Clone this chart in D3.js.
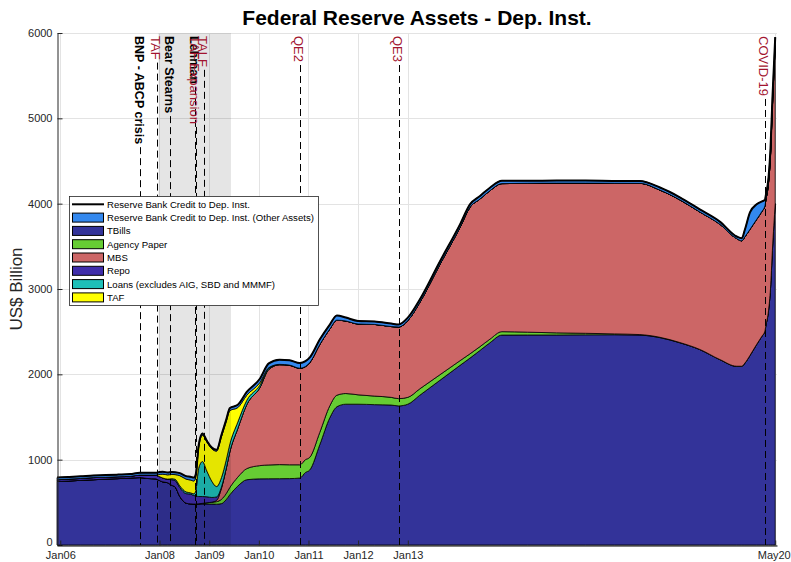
<!DOCTYPE html>
<html>
<head>
<meta charset="utf-8">
<script src="https://cdn.jsdelivr.net/npm/d3@7"></script>
<style>
    body { margin: 0; background: #fff; }
    svg { font-family: "Liberation Sans", Arial, Helvetica, sans-serif; }
</style>
</head>
<body>
<svg id="chart"></svg>
<script>
/**
 * @type {string[]}
 */
const dates = [
    "2005-12-08", "2006-03-01", "2006-06-01", "2006-09-01", "2006-12-01", "2007-03-01",
    "2007-06-01", "2007-08-10", "2007-10-01", "2007-12-05", "2007-12-26", "2008-01-25",
    "2008-03-01", "2008-04-01", "2008-04-25", "2008-05-30", "2008-07-15", "2008-08-15",
    "2008-09-10", "2008-09-24", "2008-10-15", "2008-11-12", "2008-12-15", "2009-01-20",
    "2009-02-24", "2009-04-01", "2009-05-05", "2009-06-02", "2009-07-30", "2009-10-04",
    "2010-01-07", "2010-03-15", "2010-06-02", "2010-08-15", "2010-10-29", "2010-12-10",
    "2011-01-11", "2011-03-25", "2011-06-07", "2011-07-29", "2011-10-03", "2012-01-01",
    "2012-05-01", "2012-09-01", "2012-10-25", "2013-01-01", "2013-03-30", "2013-08-25",
    "2014-01-20", "2014-04-03", "2014-06-16", "2014-08-28", "2014-11-24", "2015-06-01",
    "2016-01-01", "2016-08-01", "2017-03-01", "2017-09-04", "2018-01-30", "2018-06-25",
    "2018-11-19", "2019-04-15", "2019-08-18", "2019-09-24", "2019-10-17", "2019-11-23",
    "2020-01-11", "2020-02-19", "2020-03-12", "2020-03-18", "2020-04-08", "2020-04-22",
    "2020-05-06", "2020-05-27"
];

// series values, US$ billion, stacked bottom to top in this order
const tbills = [
    745, 750, 758, 765, 772, 778, 785, 790, 780, 775, 760, 740,
    730, 700, 680, 567, 490, 482, 480, 480, 480, 480, 480, 480,
    478, 485, 530, 590, 690, 765, 775, 776, 777, 778, 785, 850,
    880, 1174, 1491, 1620, 1650, 1650, 1645, 1640, 1630, 1650, 1755, 1930,
    2105, 2190, 2280, 2370, 2460, 2461, 2461, 2463, 2464, 2460, 2430, 2370,
    2290, 2172, 2093, 2093, 2130, 2219, 2348, 2445, 2504, 2560, 2750, 3000,
    3450, 4000
];
const agency = [
    0, 0, 0, 0, 0, 0, 0, 0, 0, 0, 0, 0,
    0, 0, 0, 0, 0, 0, 0, 0, 3, 8, 15, 22,
    30, 50, 70, 85, 105, 130, 155, 162, 165, 162, 155, 150,
    148, 145, 140, 135, 125, 110, 100, 90, 85, 80, 75, 65,
    55, 50, 45, 42, 40, 33, 25, 18, 10, 6, 4, 3,
    2, 2, 2, 2, 2, 2, 2, 2, 2, 2, 2, 2,
    2, 2
];
const mbs = [
    0, 0, 0, 0, 0, 0, 0, 0, 0, 0, 0, 0,
    0, 0, 0, 0, 0, 0, 0, 0, 0, 0, 0, 0,
    15, 130, 290, 420, 570, 750, 910, 1120, 1170, 1165, 1130, 1090,
    1110, 1030, 900, 880, 850, 830, 840, 830, 840, 900, 1012, 1293,
    1562, 1717, 1730, 1740, 1735, 1745, 1755, 1760, 1765, 1772, 1725, 1672,
    1611, 1586, 1495, 1470, 1480, 1477, 1465, 1462, 1466, 1470, 1500, 1560,
    1680, 1850
];
const repo = [
    20, 22, 22, 25, 22, 22, 20, 30, 40, 45, 45, 45,
    40, 65, 75, 105, 112, 115, 100, 95, 85, 80, 70, 55,
    40, 15, 0, 0, 0, 0, 0, 0, 0, 0, 0, 0,
    0, 0, 0, 0, 0, 0, 0, 0, 0, 0, 0, 0,
    0, 0, 0, 0, 0, 0, 0, 0, 0, 0, 0, 0,
    0, 0, 0, 0, 0, 0, 0, 0, 0, 0, 0, 0,
    0, 0
];
const loans = [
    0, 0, 0, 0, 0, 0, 0, 0, 0, 0, 0, 0,
    2, 12, 15, 20, 20, 15, 20, 60, 330, 410, 300, 190,
    122, 110, 100, 90, 75, 50, 30, 15, 5, 3, 2, 2,
    0, 0, 0, 0, 0, 0, 0, 0, 0, 0, 0, 0,
    0, 0, 0, 0, 0, 0, 0, 0, 0, 0, 0, 0,
    0, 0, 0, 0, 0, 0, 0, 0, 0, 0, 0, 0,
    0, 0
];
const taf = [
    0, 0, 0, 0, 0, 0, 0, 0, 0, 0, 20, 45,
    50, 50, 55, 120, 150, 150, 150, 160, 240, 310, 340, 380,
    415, 480, 450, 390, 170, 60, 30, 5, 0, 0, 0, 0,
    0, 0, 0, 0, 0, 0, 0, 0, 0, 0, 0, 0,
    0, 0, 0, 0, 0, 0, 0, 0, 0, 0, 0, 0,
    0, 0, 0, 0, 0, 0, 0, 0, 0, 0, 0, 0,
    0, 0
];
const otherAssets = [
    25, 25, 25, 25, 25, 25, 27, 27, 27, 28, 28, 28,
    28, 28, 28, 30, 35, 38, 40, 35, 30, 20, 15, 15,
    15, 20, 25, 30, 33, 38, 45, 50, 55, 57, 60, 62,
    60, 58, 52, 55, 40, 35, 35, 35, 30, 35, 35, 35,
    35, 35, 35, 35, 35, 30, 30, 30, 28, 28, 30, 30,
    30, 30, 25, 30, 85, 200, 177, 118, 70, 60, 60, 80,
    90, 100
];

/** Series keys, colours and legend text (legend order). */
const seriesKeys = ["other", "tbills", "agency", "mbs", "repo", "loans", "taf"];
const seriesColors = ["#3388ee", "#333399", "#66cc33", "#cc6666", "#3f2daa", "#1fbfb8", "#ffff00"];
const legendLabels = [
    "Reserve Bank Credit to Dep. Inst.",
    "Reserve Bank Credit to Dep. Inst. (Other Assets)",
    "TBills",
    "Agency Paper",
    "MBS",
    "Repo",
    "Loans (excludes AIG, SBD and MMMF)",
    "TAF"
];
/** stacking order, bottom to top */
const stackOrder = ["tbills", "agency", "mbs", "repo", "loans", "taf", "other"];

/** Event markers */
const eventDates = ["2007-08-09", "2007-12-12", "2008-03-16", "2008-09-15", "2008-09-29",
    "2008-11-25", "2010-11-03", "2012-10-25", "2020-03-15"];
const eventLabels = ["BNP - ABCP crisis", "TAF", "Bear Stearns", "Lehman", "TAF Expansion",
    "TALF", "QE2", "QE3", "COVID-19"];
const eventBold = [true, false, true, true, false, false, false, false, false];

/** Recession shading */
const recession = ["2007-12-25", "2009-06-10"];

/** Axis ticks */
const xTickDates = ["2006-01-01", "2008-01-01", "2009-01-01", "2010-01-01", "2011-01-01",
    "2012-01-01", "2013-01-01", "2020-05-27"];
const xTickLabels = ["Jan06", "Jan08", "Jan09", "Jan10", "Jan11", "Jan12", "Jan13", "May20"];
const yTicks = [0, 1000, 2000, 3000, 4000, 5000, 6000];

// ----------------------------------------------------------------------------

const width = 791;
const height = 562;
const plot = {left: 57, right: 777, top: 33, bottom: 545};
const eventRed = "#a2142f";

const parse = d3.timeParse("%Y-%m-%d");

const svg = d3.select("#chart")
    .attr("width", width)
    .attr("height", height);

const x = d3.scaleTime()
    .domain([parse("2005-12-08"), parse("2020-06-09")])
    .range([plot.left, plot.right]);

const y = d3.scaleLinear()
    .domain([0, 6000])
    .range([plot.bottom, plot.top]);

// build rows for d3.stack from the arrays above
const table = dates.map((d, i) => ({
    date: parse(d),
    tbills: tbills[i],
    agency: agency[i],
    mbs: mbs[i],
    repo: repo[i],
    loans: loans[i],
    taf: taf[i],
    other: otherAssets[i]
}));

const colorOf = key => seriesColors[seriesKeys.indexOf(key)];

function drawGrid() {
    const g = svg.append("g").attr("stroke", "#e3e3e3").attr("stroke-width", 1);
    g.selectAll("line.gy")
        .data(yTicks)
        .join("line")
        .attr("x1", plot.left).attr("x2", plot.right)
        .attr("y1", d => Math.round(y(d)) + 0.5)
        .attr("y2", d => Math.round(y(d)) + 0.5);
    g.selectAll("line.gx")
        .data(xTickDates)
        .join("line")
        .attr("x1", d => Math.round(x(parse(d))) + 0.5)
        .attr("x2", d => Math.round(x(parse(d))) + 0.5)
        .attr("y1", plot.top).attr("y2", plot.bottom);
}

function drawAreas() {
    const stacked = d3.stack().keys(stackOrder)(table);

    const area = d3.area()
        .x(d => x(d.data.date))
        .y0(d => y(d[0]))
        .y1(d => y(d[1]))
        .curve(d3.curveMonotoneX);

    svg.append("g")
        .selectAll("path")
        .data(stacked)
        .join("path")
        .attr("d", area)
        .attr("fill", d => colorOf(d.key))
        .attr("stroke", "#000")
        .attr("stroke-width", 0.8)
        .attr("stroke-linejoin", "round");

    // total = top of the stack
    const line = d3.line()
        .x(d => x(d.data.date))
        .y(d => y(d[1]))
        .curve(d3.curveMonotoneX);

    svg.append("path")
        .datum(stacked[stacked.length - 1])
        .attr("d", line)
        .attr("fill", "none")
        .attr("stroke", "#000")
        .attr("stroke-width", 2);
}

function drawRecession() {
    const x0 = x(parse(recession[0]));
    const x1 = x(parse(recession[1]));
    svg.append("rect")
        .attr("x", x0).attr("y", plot.top)
        .attr("width", x1 - x0).attr("height", plot.bottom - plot.top)
        .attr("fill", "#000")
        .attr("fill-opacity", 0.1);
}

function drawEvents() {
    const g = svg.append("g");
    eventDates.forEach((d, i) => {
        const xe = Math.round(x(parse(d))) + 0.5;
        const label = g.append("text")
            .attr("transform", `translate(${xe - 2},36) rotate(90)`)
            .attr("dominant-baseline", "central")
            .attr("font-size", eventBold[i] ? 12.5 : 13)
            .attr("font-weight", eventBold[i] ? "bold" : "normal")
            .attr("fill", eventBold[i] ? "#000" : eventRed)
            .text(eventLabels[i]);
        const len = label.node().getComputedTextLength();
        g.insert("line", "text")
            .attr("x1", xe).attr("x2", xe)
            .attr("y1", 36 + len + 3).attr("y2", plot.bottom)
            .attr("stroke", "#000")
            .attr("stroke-width", 1)
            .attr("stroke-dasharray", "7,4");
    });
}

function drawAxes() {
    const yAxis = d3.axisLeft(y)
        .tickValues(yTicks)
        .tickFormat(d3.format("d"))
        .tickSizeInner(-5)
        .tickSizeOuter(0)
        .tickPadding(5);
    const gy = svg.append("g")
        .attr("transform", `translate(${plot.left + 0.5},0)`)
        .call(yAxis);

    const xAxis = d3.axisBottom(x)
        .tickValues(xTickDates.map(parse))
        .tickFormat((d, i) => xTickLabels[i])
        .tickSizeInner(-5)
        .tickSizeOuter(0)
        .tickPadding(6);
    const gx = svg.append("g")
        .attr("transform", `translate(0,${plot.bottom + 0.5})`)
        .call(xAxis);

    [gx, gy].forEach(g => {
        g.selectAll("text")
            .attr("font-size", 11)
            .attr("fill", "#262626")
            .attr("font-family", null);
        g.selectAll("path, line").attr("stroke", "#262626");
    });
    gx.select(".domain").attr("stroke", "#000");
    // keep the last label inside the picture
    gx.selectAll("text").filter((d, i) => i === xTickLabels.length - 1).attr("dx", -1.5);
    // lift the "0" label a little so it clears "Jan06"
    gy.selectAll("text").filter(d => d === 0).attr("dy", "0.05em");

    svg.append("text")
        .attr("transform", `translate(22,289) rotate(-90)`)
        .attr("text-anchor", "middle")
        .attr("font-size", 17)
        .attr("fill", "#262626")
        .text("US$ Billion");

    svg.append("text")
        .attr("x", (plot.left + plot.right) / 2)
        .attr("y", 25)
        .attr("text-anchor", "middle")
        .attr("font-size", 21)
        .attr("font-weight", "bold")
        .attr("fill", "#000")
        .text("Federal Reserve Assets - Dep. Inst.");
}

function drawLegend() {
    const g = svg.append("g");
    g.append("rect")
        .attr("x", 69.5).attr("y", 196.5)
        .attr("width", 249).attr("height", 109)
        .attr("fill", "#fff")
        .attr("stroke", "#262626")
        .attr("stroke-width", 0.8);

    const rowY = i => 204.3 + i * 13.3;

    legendLabels.forEach((label, i) => {
        const cy = rowY(i);
        if (i === 0) {
            g.append("line")
                .attr("x1", 72).attr("x2", 104)
                .attr("y1", cy).attr("y2", cy)
                .attr("stroke", "#000").attr("stroke-width", 2);
        } else {
            g.append("rect")
                .attr("x", 72.5).attr("y", cy - 4.5)
                .attr("width", 31).attr("height", 9)
                .attr("fill", seriesColors[i - 1])
                .attr("stroke", "#000").attr("stroke-width", 1);
        }
        g.append("text")
            .attr("x", 107).attr("y", cy)
            .attr("dominant-baseline", "central")
            .attr("font-size", 9.6)
            .attr("fill", "#000")
            .text(label);
    });
}

function main() {
    drawGrid();
    drawAreas();
    drawRecession();
    drawEvents();
    drawAxes();
    drawLegend();
}

main();
</script>
</body>
</html>
